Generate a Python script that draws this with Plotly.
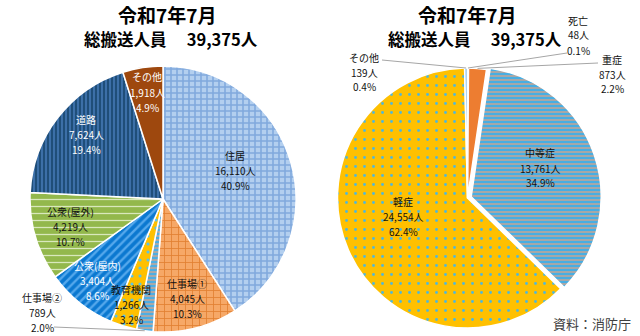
import math
import plotly.graph_objects as go

W, H = 640, 336

# ---------------- data ----------------
left_labels = ["住居", "仕事場①", "仕事場②", "教育機関", "公衆(屋内)", "公衆(屋外)", "道路", "その他"]
left_values = [16110, 4045, 789, 1266, 3404, 4219, 7624, 1918]
left_pcts = ["40.9%", "10.3%", "2.0%", "3.2%", "8.6%", "10.7%", "19.4%", "4.9%"]

right_labels = ["死亡", "重症", "中等症", "軽症", "その他"]
right_values = [48, 873, 13761, 24554, 139]
right_pcts = ["0.1%", "2.2%", "34.9%", "62.4%", "0.4%"]

title_month = "令和7年7月"
title_total = "総搬送人員　 39,375人"
source_text = "資料：消防庁"

# ---------------- styles ----------------
left_bg = ["#B3CFEF", "#F6A867", "#A9A9A9", "#FFC000", "#0B78D0", "#93B84C", "#1F4E79", "#9E480E"]
left_fg = ["#80A9DD", "#E27F31", "#4DAEE3", "#5BC3E6", "#55A8EC", "#D9E8BC", "#4378B4", "#9E480E"]
left_shape = ["+", "+", "-", ".", "/", "-", "|", ""]
left_size = [6, 7, 4, 8, 6, 7, 4, 6]
left_solid = [0.45, 0.22, 0.5, 0.12, 0.4, 0.18, 0.4, 0.3]
left_txt = ["#111111", "#111111", "#111111", "#111111", "#FFFFFF", "#111111", "#FFFFFF", "#FFFFFF"]

right_bg = ["#A5A5A5", "#ED7D31", "#A7A7A7", "#FFC000", "#8EC3EC"]
right_fg = ["#A5A5A5", "#ED7D31", "#47AEE3", "#52B7D6", "#8EC3EC"]
right_shape = ["", "", "-", ".", ""]
right_size = [6, 6, 4, 9, 6]
right_solid = [0.3, 0.3, 0.5, 0.08, 0.3]
right_txt = ["#111111", "#111111", "#111111", "#111111", "#111111"]
right_pull = [0, 0, 0.03, 0, 0]

# geometry (pixels)
LC, LR = (163.0, 199.0), 133.0
RC, RR = (467.5, 198.0), 130.0
LINE = 15  # label line spacing in pixels

# label anchor positions (pixels, middle line)
left_pos = [(235, 170), (187, 298), (42, 312), (131, 304), (97, 280), (70, 226), (86, 134), (147, 92)]
right_pos = [(578, 35), (612, 74), (540, 168), (403, 216), (364, 72)]
# leader lines for outside labels: index -> tail point (pixels)
left_leader = {2: (54, 327)}
right_leader = {0: (567, 53), 1: (598, 63), 4: (382, 60)}


def px(x):
    return x / W


def py(y):
    return 1 - y / H


def domain(c, r, pull=0.0):
    h = r * (1 + pull)
    return dict(x=[px(c[0] - h), px(c[0] + h)], y=[py(c[1] + h), py(c[1] - h)])


def mid_point(values, i, c, r):
    tot = sum(values)
    start = sum(values[:i]) / tot
    frac = (start + values[i] / tot / 2) * 2 * math.pi
    return c[0] + r * math.sin(frac), c[1] - r * math.cos(frac)


fig = go.Figure()

fig.add_trace(go.Pie(
    labels=left_labels, values=left_values, sort=False, direction="clockwise", rotation=0,
    textinfo="none", hoverinfo="skip", showlegend=False,
    domain=domain(LC, LR),
    marker=dict(colors=left_bg, line=dict(color="white", width=1.5),
                pattern=dict(shape=left_shape, bgcolor=left_bg, fgcolor=left_fg,
                             size=left_size, solidity=left_solid, fillmode="replace")),
))

fig.add_trace(go.Pie(
    labels=right_labels, values=right_values, sort=False, direction="clockwise", rotation=0,
    textinfo="none", hoverinfo="skip", showlegend=False, pull=right_pull,
    domain=domain(RC, RR, max(right_pull)),
    marker=dict(colors=right_bg, line=dict(color="white", width=1.5),
                pattern=dict(shape=right_shape, bgcolor=right_bg, fgcolor=right_fg,
                             size=right_size, solidity=right_solid, fillmode="replace")),
))

annotations = []
shapes = []
FONT = "Noto Sans CJK JP"


def add_labels(labels, values, pcts, pos, colors, leaders, c, r):
    for i, lab in enumerate(labels):
        x, y = pos[i]
        lines = [lab, f"{values[i]:,}人", pcts[i]]
        for k, t in enumerate(lines):
            annotations.append(dict(
                x=px(x), y=py(y + (k - 1) * LINE), xref="paper", yref="paper", showarrow=False,
                xanchor="center", yanchor="middle", text=t,
                font=dict(family=FONT, size=10, color=colors[i]),
            ))
    for i, (tx, ty) in leaders.items():
        hx, hy = mid_point(values, i, c, r)
        shapes.append(dict(type="line", xref="paper", yref="paper",
                           x0=px(tx), y0=py(ty), x1=px(hx), y1=py(hy),
                           line=dict(color="#A6A6A6", width=1)))


add_labels(left_labels, left_values, left_pcts, left_pos, left_txt, left_leader, LC, LR)
add_labels(right_labels, right_values, right_pcts, right_pos, right_txt, right_leader, RC, RR)

for cx1, cx2 in [(167, 171), (467, 475)]:
    annotations.append(dict(x=px(cx1), y=py(15), xref="paper", yref="paper", showarrow=False,
                            xanchor="center", yanchor="middle", text=f"<b>{title_month}</b>",
                            font=dict(family=FONT, size=19, color="#000000")))
    annotations.append(dict(x=px(cx2), y=py(39), xref="paper", yref="paper", showarrow=False,
                            xanchor="center", yanchor="middle", text=f"<b>{title_total}</b>",
                            font=dict(family=FONT, size=16.5, color="#000000")))

annotations.append(dict(x=px(633), y=py(323), xref="paper", yref="paper", showarrow=False,
                        xanchor="right", yanchor="middle", text=source_text,
                        font=dict(family=FONT, size=13, color="#404040")))

fig.update_layout(
    width=W, height=H, margin=dict(l=0, r=0, t=0, b=0),
    paper_bgcolor="white", plot_bgcolor="white",
    annotations=annotations, shapes=shapes,
)

fig.write_html("out.html")
